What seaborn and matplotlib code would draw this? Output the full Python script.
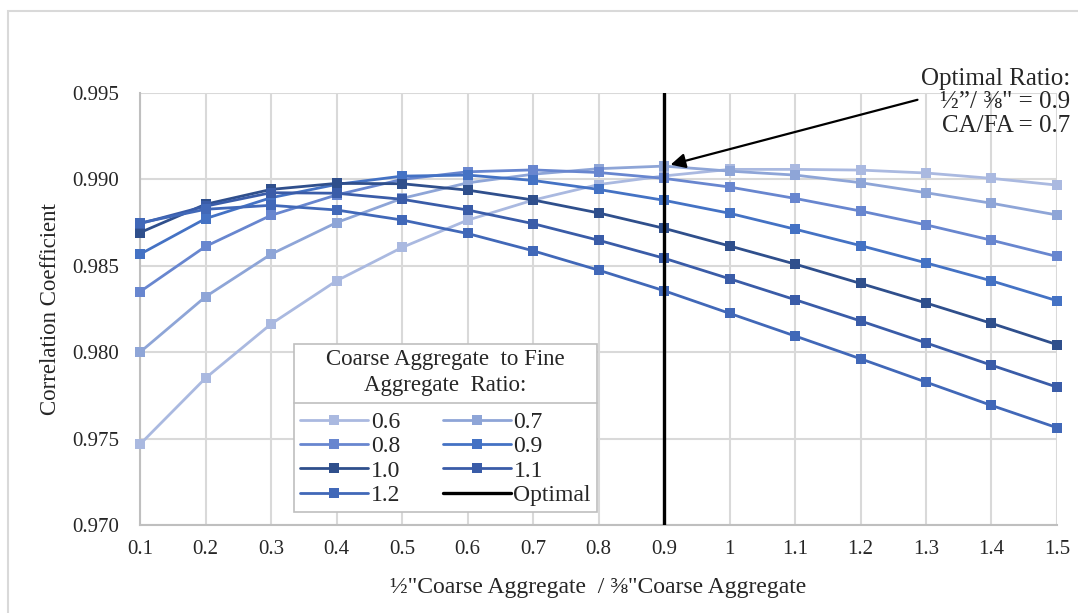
import matplotlib
matplotlib.use("Agg")
import matplotlib.pyplot as plt
import matplotlib.patches as mpatches
from matplotlib.lines import Line2D
import pandas as pd
import seaborn as sns

# x values: 1/2" CA over 3/8" CA
size_ratio = [0.1, 0.2, 0.3, 0.4, 0.5, 0.6, 0.7, 0.8, 0.9, 1.0, 1.1, 1.2, 1.3, 1.4, 1.5]
x_ticklabels = ["0.1", "0.2", "0.3", "0.4", "0.5", "0.6", "0.7", "0.8", "0.9",
                "1", "1.1", "1.2", "1.3", "1.4", "1.5"]

# correlation coefficient for each CA/FA ratio
r_06 = [0.97467, 0.97850, 0.98163, 0.98413, 0.98606, 0.98764, 0.98880, 0.98970,
        0.99020, 0.99058, 0.99058, 0.99054, 0.99037, 0.99006, 0.98967]
r_07 = [0.98000, 0.98321, 0.98567, 0.98750, 0.98890, 0.98980, 0.99030, 0.99062,
        0.99077, 0.99048, 0.99025, 0.98981, 0.98923, 0.98862, 0.98794]
r_08 = [0.98350, 0.98612, 0.98792, 0.98910, 0.99000, 0.99044, 0.99055, 0.99040,
        0.99006, 0.98956, 0.98890, 0.98817, 0.98737, 0.98648, 0.98554]
r_09 = [0.98567, 0.98773, 0.98894, 0.98971, 0.99019, 0.99025, 0.98994, 0.98942,
        0.98879, 0.98804, 0.98712, 0.98617, 0.98517, 0.98413, 0.98298]
r_10 = [0.98692, 0.98856, 0.98942, 0.98977, 0.98975, 0.98938, 0.98881, 0.98806,
        0.98717, 0.98615, 0.98510, 0.98398, 0.98285, 0.98167, 0.98044]
r_11 = [0.98744, 0.98845, 0.98923, 0.98920, 0.98885, 0.98823, 0.98744, 0.98648,
        0.98544, 0.98425, 0.98304, 0.98181, 0.98054, 0.97925, 0.97798]
r_12 = [0.98748, 0.98827, 0.98850, 0.98823, 0.98765, 0.98687, 0.98587, 0.98475,
        0.98356, 0.98225, 0.98094, 0.97962, 0.97827, 0.97692, 0.97563]

ca_fa = ["0.6", "0.7", "0.8", "0.9", "1.0", "1.1", "1.2"]
colors = ["#aab9e0", "#8ea5d7", "#6886cf", "#4472c4", "#2f4f8c", "#3a5ca8", "#4168b8"]
optimal_x = 0.9

series = [r_06, r_07, r_08, r_09, r_10, r_11, r_12]
df = pd.concat(
    [pd.DataFrame({"ratio": size_ratio, "r": vals, "cafa": lab})
     for lab, vals in zip(ca_fa, series)],
    ignore_index=True,
)

sns.set_style("white")
plt.rcParams["font.family"] = ["Liberation Serif", "DejaVu Serif"]

fig = plt.figure(figsize=(10.78, 6.13), dpi=100)
ax = fig.add_axes([140 / 1078, 1 - 525 / 613, 917 / 1078, 432 / 613])

# outer chart frame
fig.patches.append(mpatches.Rectangle((8 / 1078, -0.1), 1.2, 1 - 11 / 613 + 0.1,
                                      transform=fig.transFigure, fill=False,
                                      edgecolor="#d9d9d9", lw=1.5, zorder=0))

sns.lineplot(data=df, x="ratio", y="r", hue="cafa", palette=dict(zip(ca_fa, colors)),
             marker="s", markersize=6.5, markeredgewidth=0, linewidth=2.0,
             legend=False, ax=ax, clip_on=False, zorder=3)

ax.axvline(optimal_x, color="black", lw=2.4, zorder=4)

ax.set_xlim(0.1, 1.5)
ax.set_ylim(0.970, 0.995)
ax.set_xticks(size_ratio)
ax.set_xticklabels(x_ticklabels)
ax.set_yticks([0.970, 0.975, 0.980, 0.985, 0.990, 0.995])
ax.set_yticklabels(["0.970", "0.975", "0.980", "0.985", "0.990", "0.995"])
ax.grid(True, color="#d9d9d9", lw=1.5)
ax.tick_params(length=0, labelsize=15)
ax.tick_params(axis="y", pad=15)
ax.tick_params(axis="x", pad=11)
for s in ["top", "right"]:
    ax.spines[s].set_visible(False)
for s in ["left", "bottom"]:
    ax.spines[s].set_color("#bfbfbf")
    ax.spines[s].set_linewidth(1.5)

ax.set_xlabel('½"Coarse Aggregate  / ⅜"Coarse Aggregate', fontsize=17, labelpad=13)
ax.set_ylabel("Correlation Coefficient", fontsize=16.5, labelpad=8)

# legend, row layout like the original (column-major order for ncol=2)
lines = ax.get_lines()[:7]
opt_handle = Line2D([], [], color="black", lw=2.4)
labels = ca_fa + ["Optimal"]
handles = list(lines) + [opt_handle]
order = [0, 2, 4, 6, 1, 3, 5, 7]
leg = ax.legend([handles[i] for i in order], [labels[i] for i in order], ncol=2,
                title="Coarse Aggregate  to Fine\nAggregate  Ratio:",
                loc="lower left", bbox_to_anchor=(154 / 917, 13 / 432),
                fontsize=17, title_fontsize=16.5, frameon=True, fancybox=False,
                edgecolor="#bfbfbf", framealpha=1, handlelength=2.9,
                handletextpad=0.1, columnspacing=1.8, labelspacing=0.12,
                borderpad=0.25, borderaxespad=0)
leg.get_frame().set_linewidth(1.2)
leg.get_title().set_multialignment("center")
leg.get_title().set_linespacing(1.3)
leg._legend_box.sep = 11  # room between title and entries for the rule line
leg.set_zorder(6)

# line under the legend title
fig.canvas.draw()
rend = fig.canvas.get_renderer()
lb = leg.get_window_extent(rend)
tb = leg.get_title().get_window_extent(rend)
ysep = tb.y0 - 7
fig.add_artist(Line2D([lb.x0 / fig.bbox.width, lb.x1 / fig.bbox.width],
                      [ysep / fig.bbox.height, ysep / fig.bbox.height],
                      transform=fig.transFigure, color="#bfbfbf", lw=1.2, zorder=7))

ax.annotate('Optimal Ratio:\n½”/ ⅜" = 0.9\nCA/FA = 0.7',
            xy=(optimal_x + 0.01, 0.99085), xycoords="data",
            xytext=(1070 / 1078, 1 - 68 / 613), textcoords="figure fraction",
            ha="right", va="top", fontsize=18, linespacing=1.08,
            arrowprops=dict(arrowstyle="-|>", color="black", lw=1.6,
                            mutation_scale=22, shrinkA=0, shrinkB=0,
                            relpos=(0.0, 0.55)),
            zorder=8)

fig.savefig("out.png", dpi=100)
